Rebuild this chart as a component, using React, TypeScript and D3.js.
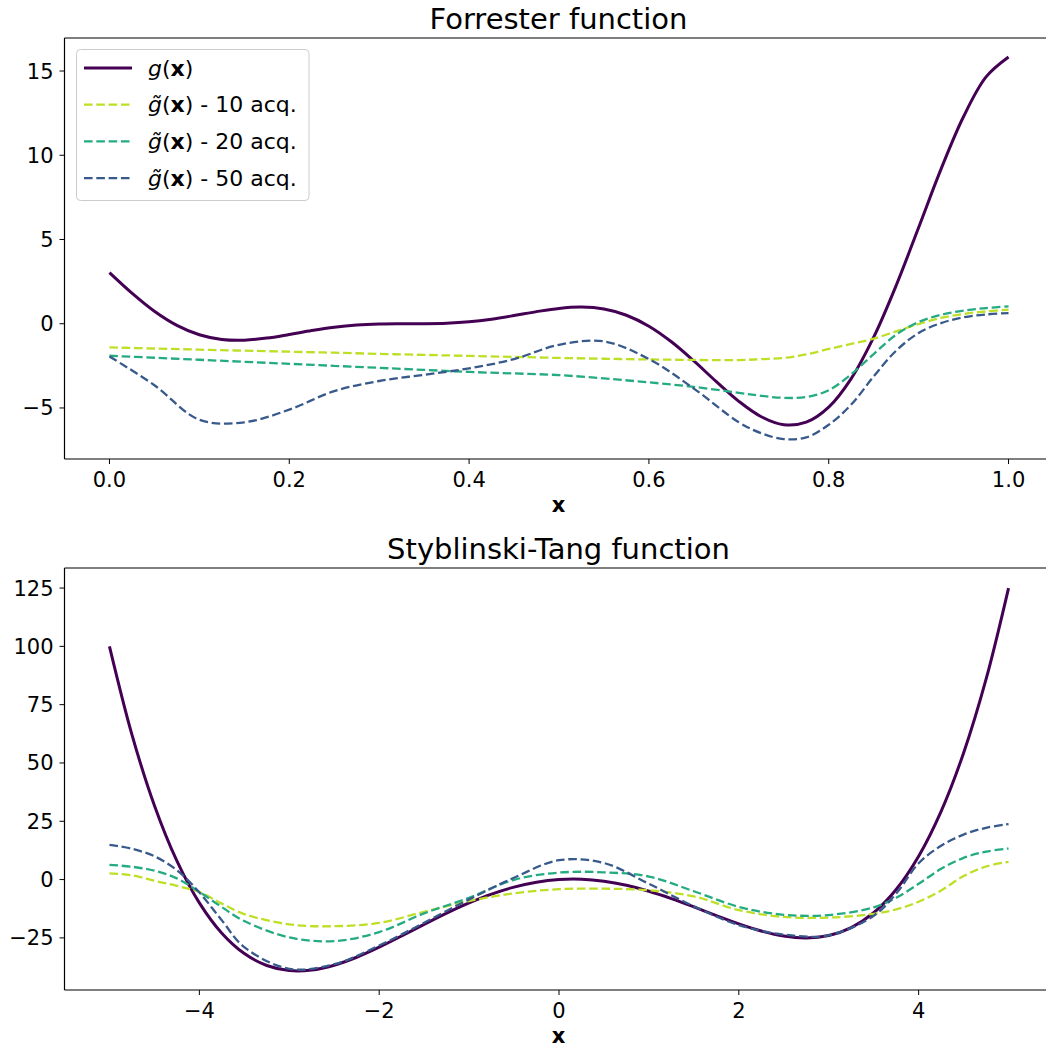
import React from "react";
import * as d3 from "d3";

const topGX = [0, 0.025, 0.05, 0.075, 0.1, 0.125, 0.15, 0.175, 0.2, 0.225, 0.25, 0.275, 0.3, 0.325, 0.35, 0.375, 0.4, 0.425, 0.45, 0.475, 0.5, 0.525, 0.55, 0.575, 0.6, 0.625, 0.65, 0.675, 0.7, 0.725, 0.75, 0.775, 0.8, 0.825, 0.85, 0.875, 0.9, 0.925, 0.95, 0.975, 1.0];
const topG = [3.03, 1.813, 0.738, -0.1, -0.657, -0.935, -0.978, -0.854, -0.64, -0.407, -0.21, -0.079, -0.016, 0.0, 0.002, 0.03, 0.115, 0.27, 0.483, 0.717, 0.909, 0.986, 0.871, 0.503, -0.149, -1.074, -2.209, -3.439, -4.606, -5.522, -5.993, -5.845, -4.949, -3.256, -0.799, 2.27, 5.712, 9.19, 12.3, 14.65, 15.83];

const botGX = [-5, -4.75, -4.5, -4.25, -4, -3.75, -3.5, -3.25, -3, -2.75, -2.5, -2.25, -2, -1.75, -1.5, -1.25, -1, -0.75, -0.5, -0.25, 0, 0.25, 0.5, 0.75, 1, 1.25, 1.5, 1.75, 2, 2.25, 2.5, 2.75, 3, 3.25, 3.5, 3.75, 4, 4.25, 4.5, 4.75, 5];
const botG = [100, 62.16, 31.78, 8.0, -10, -23.0, -31.72, -36.84, -39, -38.78, -36.72, -33.31, -29, -24.19, -19.22, -14.4, -10, -6.22, -3.22, -1.12, 0, 0.13, -0.72, -2.47, -5, -8.16, -11.72, -15.44, -19, -22.06, -24.22, -25.03, -24, -20.59, -14.22, -4.25, 10, 29.25, 54.28, 85.91, 125];

// surrogate estimates
const topX = [0, 0.05, 0.1, 0.15, 0.2, 0.25, 0.3, 0.35, 0.4, 0.45, 0.5, 0.55, 0.6, 0.65, 0.7, 0.725, 0.75, 0.775, 0.8, 0.825, 0.85, 0.875, 0.9, 0.925, 0.95, 0.975, 1.0];
const top10 = [-1.41, -1.47, -1.54, -1.6, -1.66, -1.72, -1.79, -1.85, -1.91, -1.97, -2.03, -2.08, -2.12, -2.15, -2.16, -2.1, -2.03, -1.82, -1.5, -1.2, -0.89, -0.45, -0.02, 0.35, 0.58, 0.73, 0.83];
const top20 = [-1.9, -2.02, -2.14, -2.26, -2.38, -2.5, -2.62, -2.74, -2.86, -2.95, -3.05, -3.25, -3.48, -3.75, -4.1, -4.28, -4.4, -4.35, -3.95, -3.0, -1.8, -0.65, 0.1, 0.53, 0.78, 0.93, 1.03];
const top50 = [-1.94, -3.65, -5.7, -5.85, -5.1, -4.0, -3.4, -3.03, -2.65, -2.1, -1.25, -1.05, -2.1, -3.85, -5.85, -6.5, -6.85, -6.75, -6.0, -4.8, -3.13, -1.6, -0.55, 0.04, 0.38, 0.55, 0.63];

const botX = [-5, -4.75, -4.5, -4.25, -4, -3.75, -3.5, -3, -2.5, -2, -1.5, -1, -0.5, 0, 0.5, 1, 1.5, 2, 2.5, 3, 3.5, 3.75, 4, 4.25, 4.5, 4.75, 5];
const bot10 = [2.7, 1.8, -0.5, -2.7, -5.3, -10.3, -14.8, -19.2, -20.0, -18.6, -13.8, -9.2, -5.9, -4.1, -3.9, -4.6, -7.2, -13.1, -16.0, -16.3, -14.7, -12.8, -9.5, -4.7, 1.5, 5.6, 7.6];
const bot20 = [6.3, 5.5, 3.8, 0.5, -5.3, -11.8, -17.8, -24.8, -26.4, -22.5, -14.5, -7.8, -0.1, 3.0, 3.1, 1.3, -5.0, -11.7, -15.1, -15.2, -11.9, -7.8, -1.8, 4.6, 9.3, 12.0, 13.3];
const bot50 = [14.9, 13.2, 10.0, 4.0, -5.5, -17.5, -29.0, -38.3, -36.3, -28.3, -18.5, -8.5, 0.8, 8.3, 7.1, -1.8, -11.5, -19.5, -23.6, -23.9, -15.5, -6.0, 7.0, 14.5, 19.3, 22.2, 23.8];

const topXTicks = [0, 0.2, 0.4, 0.6, 0.8, 1.0];
const topYTicks = [-5, 0, 5, 10, 15];
const botXTicks = [-4, -2, 0, 2, 4];
const botYTicks = [-25, 0, 25, 50, 75, 100, 125];

const legendAcq = ["10 acq.", "20 acq.", "50 acq."];
const colors = ["#440154", "#bddf26", "#25ab82", "#38598c"];

const FONT = "DejaVu Sans";

function Panel({ title, gx, g, xs, ests, xDomain, yDomain, top, bottom, xTicks, yTicks, xFmt, legend }) {
  const x = d3.scaleLinear().domain(xDomain).range([64.5, 1053.5]);
  const y = d3.scaleLinear().domain(yDomain).range([bottom, top]);
  const gLine = d3
    .line()
    .x((d, i) => x(gx[i]))
    .y((d) => y(d))
    .curve(d3.curveCatmullRom.alpha(0.5));
  const estLine = d3
    .line()
    .x((d, i) => x(xs[i]))
    .y((d) => y(d))
    .curve(d3.curveCatmullRom.alpha(0.5));
  const yFmt = d3.format("d");

  return (
    <g>
      <text x={558.5} y={top - 9} textAnchor="middle" fontSize={29} fill="#000">
        {title}
      </text>
      <path d={gLine(g)} fill="none" stroke={colors[0]} strokeWidth={3} />
      {ests.map((s, i) => (
        <path
          key={i}
          d={estLine(s)}
          fill="none"
          stroke={colors[i + 1]}
          strokeWidth={2.3}
          strokeDasharray="8.6,3.7"
        />
      ))}
      {/* spines */}
      <line x1={64.5} x2={64.5} y1={top} y2={bottom} stroke="#000" strokeWidth={1.2} />
      <line x1={64.5} x2={1053.5} y1={bottom} y2={bottom} stroke="#000" strokeWidth={1.2} />
      <line x1={64.5} x2={1053.5} y1={top} y2={top} stroke="#000" strokeWidth={1.2} />
      {xTicks.map((t) => (
        <g key={t} transform={`translate(${x(t)},${bottom})`}>
          <line y1={0} y2={5} stroke="#000" strokeWidth={1} />
          <text y={28} textAnchor="middle" fontSize={21}>
            {xFmt(t)}
          </text>
        </g>
      ))}
      {yTicks.map((t) => (
        <g key={t} transform={`translate(64.5,${y(t)})`}>
          <line x1={0} x2={-5} stroke="#000" strokeWidth={1} />
          <text x={-11} y={7.5} textAnchor="end" fontSize={21}>
            {yFmt(t)}
          </text>
        </g>
      ))}
      <text x={558.5} y={bottom + 53} textAnchor="middle" fontSize={21} fontWeight="bold">
        x
      </text>
      {legend && (
        <g>
          <rect x={76.5} y={49.5} width={232.5} height={151} rx={4} fill="#fff" fillOpacity={0.8} stroke="#cccccc" strokeWidth={1} />
          {colors.map((c, i) => {
            const ly = 68 + i * 36.7;
            return (
              <g key={i}>
                <line
                  x1={84}
                  x2={132}
                  y1={ly}
                  y2={ly}
                  stroke={c}
                  strokeWidth={i === 0 ? 3 : 2.3}
                  strokeDasharray={i === 0 ? null : "8.6,3.7"}
                />
                <text x={148} y={ly + 7.5} fontSize={22}>
                  <tspan fontStyle="italic">{i === 0 ? "g" : "g\u0303"}</tspan>
                  <tspan>(</tspan>
                  <tspan fontWeight="bold">x</tspan>
                  <tspan>{i === 0 ? ")" : ") - " + legendAcq[i - 1]}</tspan>
                </text>
              </g>
            );
          })}
        </g>
      )}
    </g>
  );
}

export default function App() {
  return (
    <svg
      width={1046}
      height={1050}
      style={{ position: "absolute", left: 0, top: 0, background: "#fff" }}
      fontFamily={FONT}
    >
      <rect width={1046} height={1050} fill="#fff" />
      <Panel
        title="Forrester function"
        gx={topGX}
        g={topG}
        xs={topX}
        ests={[top10, top20, top50]}
        xDomain={[-0.05, 1.05]}
        yDomain={[-8.03, 16.96]}
        top={38}
        bottom={459}
        xTicks={topXTicks}
        yTicks={topYTicks}
        xFmt={d3.format(".1f")}
        legend={true}
      />
      <Panel
        title="Styblinski-Tang function"
        gx={botGX}
        g={botG}
        xs={botX}
        ests={[bot10, bot20, bot50]}
        xDomain={[-5.5, 5.5]}
        yDomain={[-47.35, 133.6]}
        top={568}
        bottom={990}
        xTicks={botXTicks}
        yTicks={botYTicks}
        xFmt={d3.format("d")}
        legend={false}
      />
    </svg>
  );
}
